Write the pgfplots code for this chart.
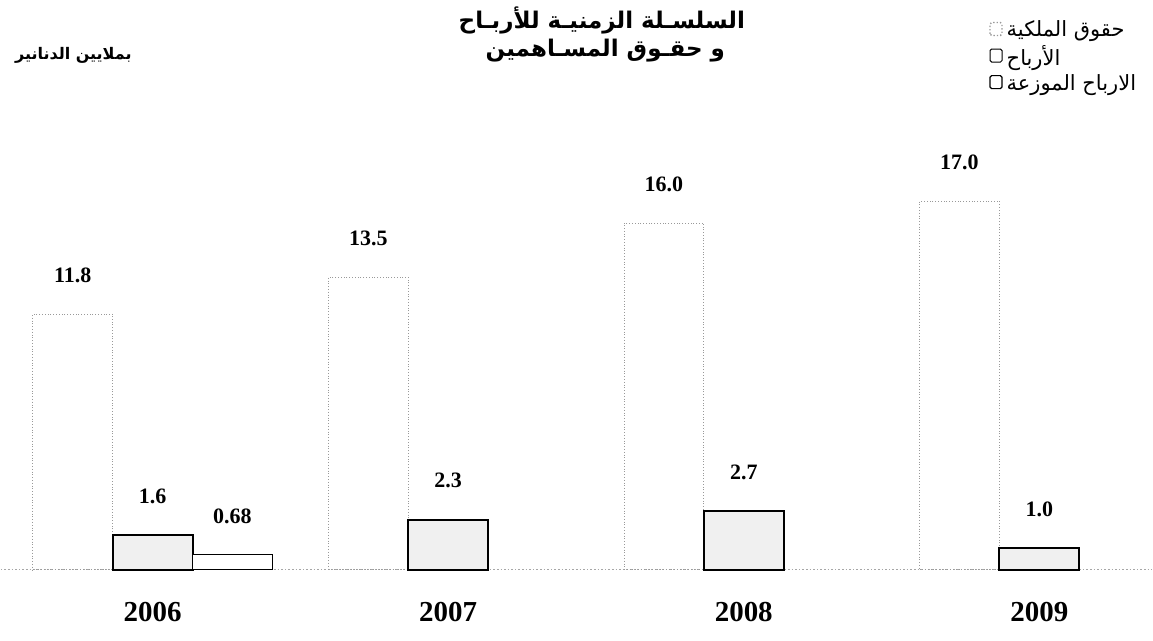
\documentclass[border=0pt]{standalone}
\usepackage{pgfplots}
\pgfplotsset{compat=1.18}
\usetikzlibrary{patterns}
\usepackage{fontspec}
\setmainfont{Liberation Serif}
\newfontfamily\arabicfont[Script=Arabic]{DejaVu Sans}
\TeXXeTstate=1
\begin{document}
\begin{tikzpicture}
\begin{axis}[
  scale only axis, width=576.5pt, height=319.5pt,
  xmin=-0.5135, xmax=3.3818, ymin=-3.272, ymax=26.175,
  axis x line*=middle, axis y line=none,
  x axis line style={draw=gray!70, densely dotted, thick},
  xtick={0,1,2,3}, xticklabels={2006,2007,2008,2009},
  major tick length=0pt,
  xticklabel style={anchor=center, yshift=-21pt, font=\bfseries\fontsize{14.5}{16}\selectfont},
  ytick=\empty,
  clip=false,
  point meta=explicit symbolic,
  nodes near coords={\pgfplotspointmeta},
  every node near coord/.append style={anchor=center, yshift=19.5pt, font=\bfseries\fontsize{11}{13}\selectfont, text=black},
  legend style={at={(rel axis cs:0.853,0.984)}, anchor=north west, draw=none, fill=none,
    font=\arabicfont\fontsize{10.5}{12.5}\selectfont, row sep=-1.2pt, cells={anchor=west}},
]
\path (rel axis cs:0,0) rectangle (rel axis cs:1,1);
\addplot[ybar, bar width=40pt, bar shift=-40pt, draw=gray!80, densely dotted, fill=none,
  every node near coord/.append style={xshift=-40pt},
  legend image code/.code={\draw[draw=gray!80, fill=white, densely dotted, line width=0.7pt, rounded corners=0.8pt] (0pt,-2.5pt) rectangle (6pt,4pt);}]
  coordinates {(0,11.8) [11.8] (1,13.5) [13.5] (2,16.0) [16.0] (3,17.0) [17.0]};
\addlegendentry{\beginR حقوق الملكية\endR}
\addplot[ybar, bar width=40pt, bar shift=0pt, draw=black, line width=1pt, fill=gray!12,
  legend image code/.code={\draw[draw=black, fill=white, solid, line width=0.5pt, rounded corners=0.8pt] (0pt,-2.5pt) rectangle (6pt,4pt);}]
  coordinates {(0,1.6) [1.6] (1,2.3) [2.3] (2,2.7) [2.7] (3,1.0) [1.0]};
\addlegendentry{\beginR الأرباح\endR}
\addplot[ybar, bar width=40pt, bar shift=40pt, draw=black, line width=0.6pt, fill=white,
  every node near coord/.append style={xshift=40pt},
  legend image code/.code={\draw[draw=black, fill=white, solid, line width=0.6pt, rounded corners=0.8pt] (0pt,-2.5pt) rectangle (6pt,4pt);}]
  coordinates {(0,0.68) [0.68]};
\addlegendentry{\beginR الارباح الموزعة\endR}
\node[font=\arabicfont\bfseries\fontsize{11.5}{13}\selectfont] at (rel axis cs:0.522,0.972) {\beginR السلسـلة الزمنيـة للأربـاح\endR};
\node[font=\arabicfont\bfseries\fontsize{11.5}{13}\selectfont] at (rel axis cs:0.525,0.925) {\beginR و حقـوق المسـاهمين\endR};
\node[font=\arabicfont\bfseries\fontsize{8}{10}\selectfont] at (rel axis cs:0.063,0.917) {\beginR بملايين الدنانير\endR};
\end{axis}
\end{tikzpicture}
\end{document}
